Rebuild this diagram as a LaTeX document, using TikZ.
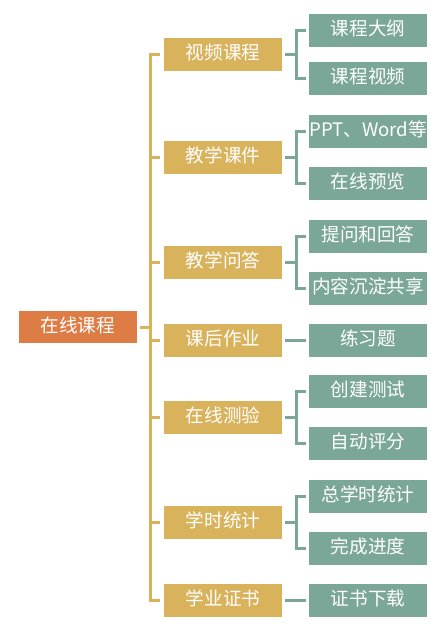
\documentclass[tikz,border=0pt]{standalone}
\usepackage{fontspec}
\setmainfont{Noto Sans CJK SC}
\definecolor{rootc}{RGB}{222,124,70}
\definecolor{goldc}{RGB}{217,178,92}
\definecolor{tealc}{RGB}{123,167,152}
\begin{document}
\begin{tikzpicture}[x=1pt,y=-1pt,
  box/.style={minimum width=118pt,minimum height=33pt,inner sep=0pt,text=white,
    font=\fontsize{18.6}{18.6}\selectfont,text height=13.5pt,text depth=3pt},
  rootbox/.style={box,fill=rootc,minimum height=32pt},
  lonebox/.style={box,fill=goldc},
  leafbox/.style={box,fill=tealc},
  goldline/.style={draw=goldc,line width=3pt},
  tealline/.style={draw=tealc,line width=3pt}]
\useasboundingbox (0,0) rectangle (442,630);
\node[rootbox] (root) at (78,327) {在线课程};
% level 1
\node[lonebox] (a) at (223,54) {视频课程};
\node[lonebox] (b) at (223,157) {教学课件};
\node[lonebox] (c) at (223,262) {教学问答};
\node[lonebox] (d) at (223,340) {课后作业};
\node[lonebox] (e) at (223,417) {在线测验};
\node[lonebox] (f) at (223,522) {学时统计};
\node[lonebox] (g) at (223,600) {学业证书};
% level 2
\node[leafbox] (a1) at (368,30) {课程大纲};
\node[leafbox] (a2) at (368,78) {课程视频};
\node[leafbox] (b1) at (368,131) {PPT、Word等};
\node[leafbox] (b2) at (368,183) {在线预览};
\node[leafbox] (c1) at (368,236) {提问和回答};
\node[leafbox] (c2) at (368,288) {内容沉淀共享};
\node[leafbox] (d1) at (368,340) {练习题};
\node[leafbox] (e1) at (368,391) {创建测试};
\node[leafbox] (e2) at (368,443) {自动评分};
\node[leafbox] (f1) at (368,496) {总学时统计};
\node[leafbox] (f2) at (368,548) {完成进度};
\node[leafbox] (g1) at (368,600) {证书下载};
% left bracket
\coordinate (rs) at ([xshift=3pt]root.east);
\foreach \t in {a,b,c,d,e,f,g}{
  \draw[goldline] (rs) -- ++(10,0) |- ([xshift=-4pt]\t.west);
}
% right brackets
\foreach \p/\q in {a/a1,a/a2,b/b1,b/b2,c/c1,c/c2,d/d1,e/e1,e/e2,f/f1,f/f2,g/g1}{
  \draw[tealline] ([xshift=3pt]\p.east) -- ++(11,0) |- ([xshift=-3pt]\q.west);
}
\end{tikzpicture}
\end{document}
